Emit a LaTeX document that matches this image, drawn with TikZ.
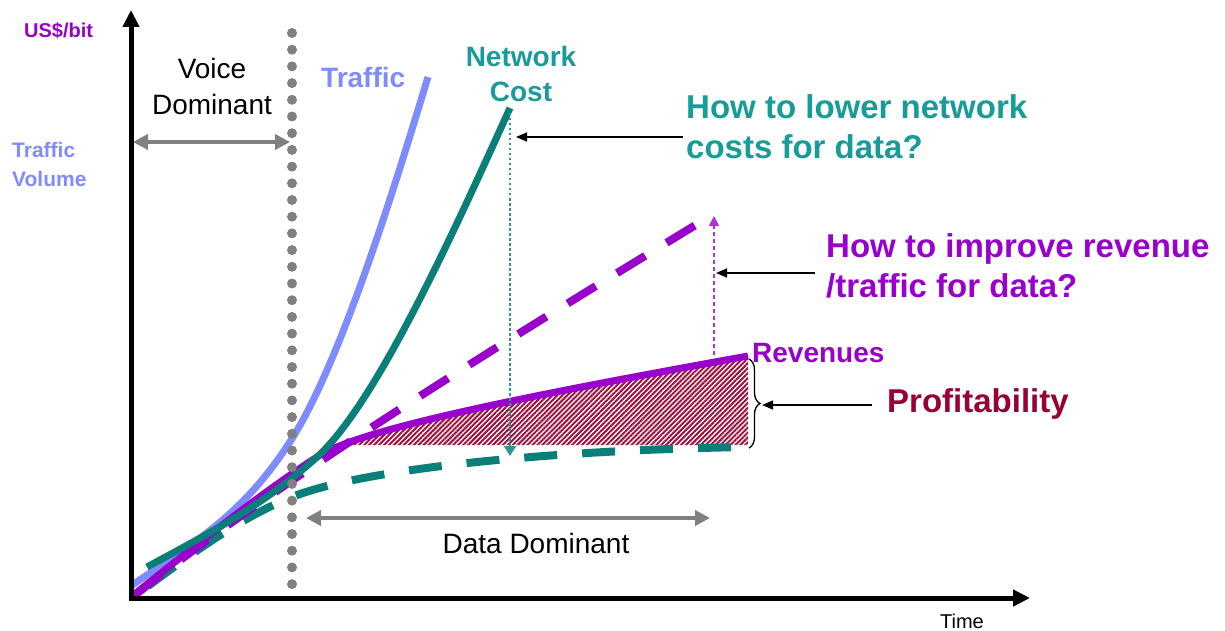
\documentclass[tikz,border=0pt]{standalone}
\usepackage{fontspec}
\setmainfont{Liberation Sans}
\usetikzlibrary{arrows.meta,patterns.meta,decorations.pathreplacing}
\newcommand\myfs[1]{\fontsize{#1}{#1}\selectfont}
\definecolor{tblue}{HTML}{7F8CFF}
\definecolor{tteal}{HTML}{0A7F7A}
\definecolor{ttealtext}{HTML}{179C97}
\definecolor{tpurple}{HTML}{9900CC}
\definecolor{thatch}{HTML}{A0103C}
\definecolor{tprofit}{HTML}{990033}
\definecolor{tgray}{HTML}{808080}
\tikzset{
  lbl/.style={inner sep=0pt, anchor=base west},
  lblc/.style={inner sep=0pt, anchor=base},
  axisline/.style={line width=5pt, -{Triangle[length=17pt,width=16pt]}},
  grayarrow/.style={draw=tgray, line width=4pt, {Triangle[length=15pt,width=15pt]}-{Triangle[length=15pt,width=15pt]}},
  thinarrow/.style={draw=black, line width=1.4pt, -{Triangle[length=11pt,width=9pt]}},
  curve/.style={line width=7pt, line cap=butt},
  dashcurve/.style={line width=8pt, dash pattern=on 33pt off 25pt},
}
\begin{document}
\begin{tikzpicture}[x=1pt,y=-1pt]
\useasboundingbox (0,0) rectangle (1225,631);
% hatched profitability area
\begin{scope}
\clip (0,0) rectangle (1225,445);
\fill[pattern={Lines[angle=45,distance=3.5pt,line width=2pt]}, pattern color=thatch]
  (317,457) .. controls (357,431) and (498,401) .. (748,356)
  -- (748,445) -- (338,445) -- cycle;
\end{scope}
% traffic
\draw[tblue, curve] (131,586) .. controls (191,544) and (243,517) .. (293,437)
  .. controls (343,357) and (398,176) .. (428,77);
% teal dashed
\draw[tteal, dashcurve] (148,586) .. controls (198,549) and (242,517) .. (292,497)
  .. controls (362,469) and (548,450) .. (748,447);
% purple dashed
\draw[tpurple, dashcurve] (135,595) .. controls (285,475) and (522,331) .. (712,215);
% revenues
\draw[tpurple, curve] (131,597) .. controls (191,549) and (257,496) .. (317,457)
  .. controls (357,431) and (498,401) .. (748,356);
% network cost
\draw[tteal, curve] (147,567) .. controls (202,537) and (262,507) .. (317,457)
  .. controls (377,403) and (455,229) .. (510,108);
% vertical gray dotted separator
\coordinate (septop) at (292,33);
\foreach \i in {0,...,33} {\fill[tgray] (292,33+\i*16.7) circle (5pt);}
% axes
\coordinate (origin) at (131,598);
\coordinate (ytip) at (131,10);
\coordinate (xtip) at (1030,598);
\draw[axisline] (131,600.5) -- (ytip);
\draw[axisline] (128.5,598) -- (xtip);
% dominance arrows
\coordinate (va) at (133,142);
\coordinate (vb) at (290,142);
\draw[grayarrow] (va) -- (vb);
\coordinate (da) at (306,518);
\coordinate (db) at (710,518);
\draw[grayarrow] (da) -- (db);
% vertical gap arrows
\coordinate (ncTop) at (510,113);
\coordinate (ncBot) at (510,456);
\draw[draw=ttealtext!80!gray, line width=2pt, dash pattern=on 2.5pt off 2.5pt, -{Triangle[length=10pt,width=12pt]}] (ncTop) -- (ncBot);
\coordinate (rvBot) at (714,355);
\coordinate (rvTop) at (714,216);
\draw[draw=tpurple!80, line width=1.6pt, dash pattern=on 4pt off 3pt, -{Triangle[length=10pt,width=10pt]}] (rvBot) -- (rvTop);
% brace
\coordinate (brTop) at (749,359);
\coordinate (brBot) at (749,448);
\draw[line width=1.3pt, decorate, decoration={brace, amplitude=11pt}] (brTop) -- (brBot);
% labels
\node[lbl, text=tpurple, font=\myfs{20}\bfseries] (usd) at (24,38) {US\$/bit};
\node[lbl, text=tblue, font=\myfs{21}\bfseries] (tv1) at (12,158) {Traffic};
\node[lbl, text=tblue, font=\myfs{21}\bfseries] (tv2) at (12,186) {Volume};
\node[lblc, font=\myfs{28}] (vd1) at (212,79) {Voice};
\node[lblc, font=\myfs{28}] (vd2) at (212,115) {Dominant};
\node[lbl, text=tblue, font=\myfs{28}\bfseries] (traf) at (321,88) {Traffic};
\node[lblc, text=ttealtext, font=\myfs{28}\bfseries] (nc1) at (521,67) {Network};
\node[lblc, text=ttealtext, font=\myfs{28}\bfseries] (nc2) at (521,102) {Cost};
\node[lbl, text=ttealtext, font=\myfs{33}\bfseries] (q1a) at (686,119) {How to lower network};
\node[lbl, text=ttealtext, font=\myfs{33}\bfseries] (q1b) at (686,159) {costs for data?};
\node[lbl, text=tpurple, font=\myfs{33}\bfseries] (q2a) at (826,257) {How to improve revenue};
\node[lbl, text=tpurple, font=\myfs{33}\bfseries] (q2b) at (826,297) {/traffic for data?};
\node[lbl, text=tpurple, font=\myfs{28}\bfseries] (rev) at (752,362) {Revenues};
\node[lbl, text=tprofit, font=\myfs{33}\bfseries] (prof) at (887,412) {Profitability};
\node[lblc, font=\myfs{28}] (dd) at (536,553) {Data Dominant};
\node[lblc, font=\myfs{20}] (time) at (962,628) {Time};
% pointer arrows
\coordinate (p1s) at (683,137);
\coordinate (p1e) at (516,137);
\draw[thinarrow] (p1s) -- (p1e);
\coordinate (p2s) at (815,273);
\coordinate (p2e) at (716,273);
\draw[thinarrow] (p2s) -- (p2e);
\coordinate (p3s) at (872,405);
\coordinate (p3e) at (762,405);
\draw[thinarrow] (p3s) -- (p3e);
\end{tikzpicture}
\end{document}
